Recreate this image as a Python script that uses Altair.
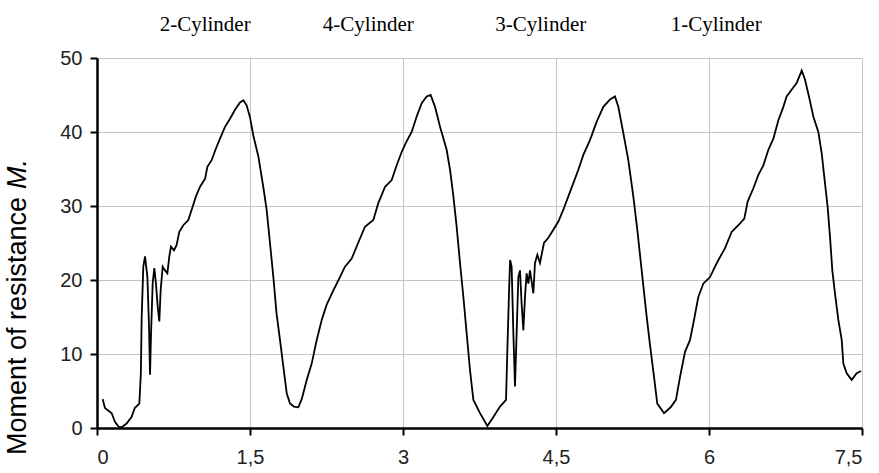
import altair as alt
import pandas as pd

# crank angle (x) and moment of resistance (y)
angle = [0.056, 0.078, 0.144, 0.176, 0.21, 0.242, 0.29, 0.34, 0.37, 0.415,
         0.43, 0.438, 0.454, 0.471, 0.494, 0.51, 0.52, 0.53, 0.546, 0.562,
         0.578, 0.595, 0.611, 0.624, 0.644, 0.667, 0.69, 0.709, 0.725, 0.755,
         0.78, 0.807, 0.846, 0.895, 0.928, 0.97, 1.01, 1.06, 1.082, 1.124,
         1.167, 1.206, 1.255, 1.304, 1.353, 1.402, 1.435, 1.467, 1.50, 1.533,
         1.582, 1.63, 1.663, 1.696, 1.729, 1.76, 1.794, 1.827, 1.86, 1.892,
         1.93, 1.974, 2.007, 2.056, 2.105, 2.154, 2.203, 2.25, 2.317, 2.382,
         2.431, 2.497, 2.56, 2.627, 2.709, 2.758, 2.824, 2.889, 2.938, 2.987,
         3.03, 3.085, 3.134, 3.183, 3.232, 3.271, 3.314, 3.363, 3.428, 3.461,
         3.494, 3.526, 3.559, 3.592, 3.624, 3.657, 3.69, 3.755, 3.827, 3.886,
         3.951, 4.01, 4.023, 4.04, 4.05, 4.065, 4.082, 4.098, 4.114, 4.131,
         4.147, 4.163, 4.18, 4.196, 4.212, 4.229, 4.245, 4.278, 4.294, 4.317,
         4.343, 4.382, 4.425, 4.474, 4.523, 4.572, 4.621, 4.67, 4.719, 4.768,
         4.833, 4.899, 4.964, 5.03, 5.078, 5.111, 5.154, 5.209, 5.258, 5.297,
         5.34, 5.382, 5.42, 5.461, 5.493, 5.559, 5.624, 5.676, 5.716, 5.765,
         5.814, 5.853, 5.895, 5.944, 6.01, 6.059, 6.092, 6.157, 6.222, 6.288,
         6.346, 6.379, 6.435, 6.484, 6.533, 6.582, 6.631, 6.68, 6.729, 6.761,
         6.81, 6.859, 6.909, 6.941, 6.98, 7.023, 7.072, 7.105, 7.137, 7.163,
         7.186, 7.209, 7.235, 7.268, 7.301, 7.317, 7.35, 7.399, 7.448, 7.49]

moment = [3.9, 2.7, 2.0, 0.85, 0.2, 0.1, 0.6, 1.5, 2.7, 3.3,
          7.4, 15.0, 21.8, 23.2, 20.4, 13.7, 7.2, 12.8, 19.6, 21.6,
          19.5, 16.4, 14.4, 18.6, 21.8, 21.3, 20.9, 23.2, 24.5, 24.0,
          24.7, 26.5, 27.4, 28.1, 29.5, 31.3, 32.6, 33.7, 35.3, 36.2,
          37.8, 39.1, 40.7, 41.8, 43.0, 44.0, 44.3, 43.6, 42.0, 39.5,
          36.7, 32.6, 29.5, 25.0, 20.4, 15.5, 11.9, 8.3, 4.7, 3.3,
          2.9, 2.8, 3.9, 6.5, 8.7, 11.9, 14.6, 16.6, 18.6, 20.4,
          21.8, 22.9, 25.0, 27.2, 28.1, 30.4, 32.6, 33.5, 35.5, 37.3,
          38.6, 40.0, 42.1, 43.9, 44.8, 45.0, 43.4, 40.7, 37.6, 34.9,
          31.3, 27.2, 22.3, 17.7, 12.8, 7.8, 3.8, 2.0, 0.27, 1.5,
          2.9, 3.8, 10.5, 18.6, 22.7, 21.8, 12.8, 5.6, 12.8, 20.4,
          21.3, 16.8, 13.2, 17.7, 20.9, 19.5, 21.3, 18.2, 22.3, 23.4,
          22.3, 25.0, 25.7, 26.8, 27.9, 29.5, 31.3, 33.1, 34.9, 36.9,
          38.9, 41.4, 43.4, 44.4, 44.8, 43.4, 40.3, 36.2, 31.3, 26.8,
          21.3, 15.9, 11.4, 6.9, 3.3, 2.0, 2.8, 3.8, 6.9, 10.3,
          11.9, 14.6, 17.7, 19.5, 20.4, 21.8, 22.7, 24.3, 26.5, 27.4,
          28.3, 30.6, 32.4, 34.2, 35.5, 37.6, 39.1, 41.6, 43.4, 44.8,
          45.7, 46.6, 48.3, 47.1, 44.8, 42.1, 40.0, 37.1, 33.1, 29.9,
          25.9, 21.3, 18.2, 14.6, 11.9, 8.7, 7.4, 6.5, 7.4, 7.7]

cyl_labels = ["2-Cylinder", "4-Cylinder", "3-Cylinder", "1-Cylinder"]
cyl_x = [1.06, 2.66, 4.35, 6.07]

x_ticks = [0, 1.5, 3, 4.5, 6, 7.5]
y_ticks = [0, 10, 20, 30, 40, 50]

df = pd.DataFrame({"angle": angle, "moment": moment, "idx": list(range(len(angle)))})
lab = pd.DataFrame({"label": cyl_labels, "x": cyl_x})

x_scale = alt.Scale(domain=[0, 7.5], nice=False, zero=False)
y_scale = alt.Scale(domain=[0, 50], nice=False)

axis_common = dict(
    domainColor="black", domainWidth=2.5,
    tickColor="black", tickWidth=2, tickSize=7,
    labelFont="Liberation Sans", labelFontSize=20, labelColor="#222222",
    grid=True, gridColor="#c4c4c4", gridWidth=1, title=None,
)

line = alt.Chart(df).mark_line(color="black", strokeWidth=1.8).encode(
    x=alt.X("angle:Q", scale=x_scale,
            axis=alt.Axis(values=x_ticks, labelPadding=12,
                          labelExpr="replace(format(datum.value, '~g'), '.', ',')",
                          **axis_common)),
    y=alt.Y("moment:Q", scale=y_scale,
            axis=alt.Axis(values=y_ticks, labelPadding=8, **axis_common)),
    order=alt.Order("idx:Q"),
)

top_labels = alt.Chart(lab).mark_text(
    font="Liberation Serif", fontSize=21, color="black",
    align="center", baseline="middle",
).encode(
    x=alt.X("x:Q", scale=x_scale),
    y=alt.value(-33),
    text="label:N",
)

title_a = alt.Chart(pd.DataFrame({"t": ["Moment of resistance"]})).mark_text(
    font="Liberation Sans", fontSize=27, color="black",
    angle=270, align="left", baseline="middle",
).encode(x=alt.value(-79), y=alt.value(397), text="t:N")

title_b = alt.Chart(pd.DataFrame({"t": ["M."]})).mark_text(
    font="Liberation Sans", fontSize=27, color="black", fontStyle="italic",
    angle=270, align="left", baseline="middle",
).encode(x=alt.value(-79), y=alt.value(131), text="t:N")

chart = alt.layer(line, top_labels, title_a, title_b).properties(
    width=765, height=370,
    autosize=alt.AutoSizeParams(type="none"),
    padding={"left": 97, "top": 58, "right": 17, "bottom": 45},
).configure_view(stroke=None).configure(background="white")

chart.save("out.html", embed_options={"renderer": "svg", "actions": False})
